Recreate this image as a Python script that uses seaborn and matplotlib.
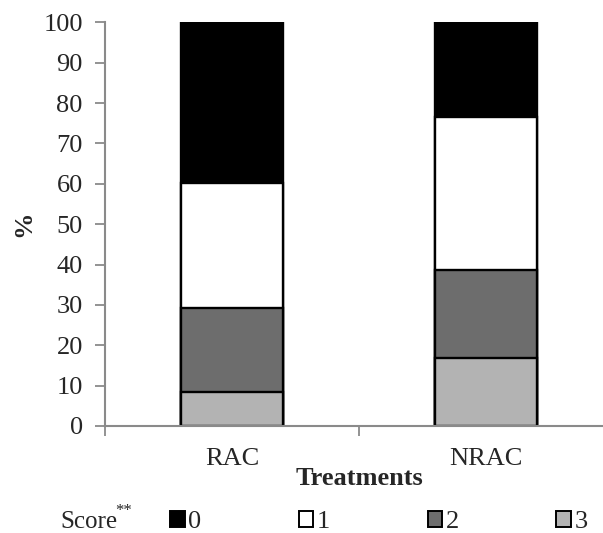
import numpy as np
import pandas as pd
import seaborn as sns
import matplotlib.pyplot as plt
from matplotlib.patches import Patch

# data (percent of animals per score)
treatments = ["RAC", "NRAC"]
scores = ["0", "1", "2", "3"]
score3 = [8.5, 16.8]
score2 = [20.7, 21.8]
score1 = [31.1, 38.0]
score0 = [39.7, 23.4]
score_colors = ["#000000", "#ffffff", "#6d6d6d", "#b3b3b3"]

sns.set_theme(style="ticks")
plt.rcParams["font.family"] = ["Liberation Serif", "DejaVu Serif"]

fig = plt.figure(figsize=(6.03, 5.33), dpi=100)
ax = fig.add_axes([105 / 603, 1 - 426 / 533, 508 / 603, (426 - 22.3) / 533])

# stacked bars drawn as cumulative layers, tallest first
layers = [score3, score2, score1, score0]
cum = np.cumsum(np.array(layers), axis=0)
df = pd.DataFrame({"treat": treatments})
for k in range(3, -1, -1):
    df["v"] = cum[k]
    col = score_colors[3 - k]
    sns.barplot(data=df, x="treat", y="v", color=col, saturation=1, width=0.4,
                edgecolor="black", linewidth=1.7, ax=ax)

ax.set_ylim(0, 100)
ax.set_xlim(-0.5, 1.5)
ax.set_yticks(range(0, 101, 10))
ax.tick_params(axis="y", labelsize=19, length=7, width=1.3, color="#8a8a8a", pad=9)
ax.tick_params(axis="x", labelsize=19, length=0, pad=16)
ax.set_xticks([-0.5, 0.5, 1.5], minor=True)
ax.tick_params(axis="x", which="minor", length=7, width=1.3, color="#8a8a8a")
for s in ["top", "right"]:
    ax.spines[s].set_visible(False)
for s in ["left", "bottom"]:
    ax.spines[s].set_color("#8a8a8a")
    ax.spines[s].set_linewidth(1.5)

ax.set_xlabel("Treatments", fontsize=19, fontweight="bold", labelpad=-2)
ax.set_ylabel("%", fontsize=19, fontweight="bold", labelpad=6)

handles = [Patch(facecolor=c, edgecolor="black", linewidth=1.4) for c in score_colors]
fig.legend(handles, scores, loc="center left", bbox_to_anchor=(170 / 603, 1 - 522 / 533),
           ncol=4, frameon=False, fontsize=19, handlelength=0.56, handleheight=0.56,
           handletextpad=0.12, columnspacing=3.7, borderpad=0, borderaxespad=0)
fig.text(60 / 603, 1 - 522 / 533, "Score", fontsize=18, va="center", ha="left")
fig.text(115 / 603, 1 - 511 / 533, "**", fontsize=12, va="center", ha="left")

fig.savefig("out.png", dpi=100)
